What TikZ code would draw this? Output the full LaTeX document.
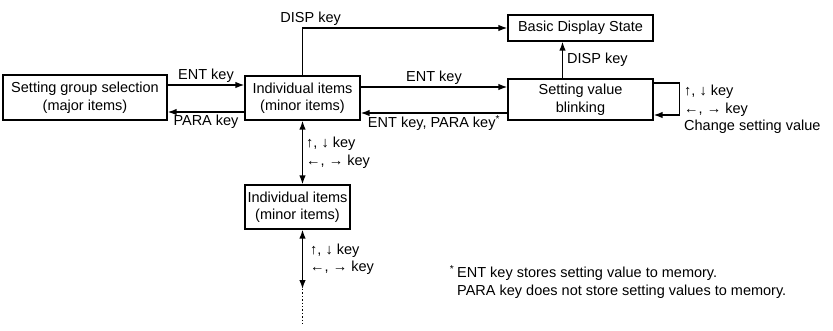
\documentclass[tikz,border=0pt]{standalone}
\usepackage{fontspec}
\setmainfont{Liberation Sans}
\usetikzlibrary{arrows.meta}

\begin{document}
\begin{tikzpicture}[x=1pt, y=-1pt,
        font=\fontsize{14.5}{17.5}\selectfont,
        statebox/.style={rectangle, draw=black, line width=1.3pt, align=center, inner sep=0pt},
        arr/.style={line width=1.4pt, -{Latex[length=9pt,width=6.5pt]}},
        darr/.style={line width=1.4pt, {Latex[length=9pt,width=6.5pt]}-{Latex[length=9pt,width=6.5pt]}},
        lbl/.style={inner sep=2pt}
    ]
        \useasboundingbox (0,0) rectangle (833,330);

        % States
        \node[statebox, minimum width=164pt, minimum height=45pt] (group) at (85,97.5) {Setting group selection\\(major items)};
        \node[statebox, minimum width=115pt, minimum height=44pt] (ind1) at (302.5,98) {Individual items\\(minor items)};
        \node[statebox, minimum width=145pt, minimum height=26pt] (basic) at (580.5,28) {Basic Display State};
        \node[statebox, minimum width=145pt, minimum height=41pt] (blink) at (580.5,99.5) {Setting value\\blinking};
        \node[statebox, minimum width=105pt, minimum height=44pt] (ind2) at (297.5,207) {Individual items\\(minor items)};

        % Group selection <-> individual items
        \draw[arr] ([yshift=12.5pt]group.east) -- ([yshift=12.5pt]group.east -| ind1.west) node[lbl, midway, above] (entA) {ENT key};
        \draw[arr] ([yshift=-14.5pt]group.east -| ind1.west) -- ([yshift=-14.5pt]group.east) node[lbl, midway, below] (paraA) {PARA key};

        % Individual items -> basic display
        \draw[arr] (ind1.north) |- (basic.west) node[lbl, pos=0.52, above] (dispA) {DISP key};

        % Individual items <-> setting value
        \draw[arr] ([yshift=11pt]ind1.east) -- ([yshift=11pt]ind1.east -| blink.west) node[lbl, midway, above] (entB) {ENT key};
        \draw[arr] ([yshift=-15pt]ind1.east -| blink.west) -- ([yshift=-15pt]ind1.east) node[lbl, midway, below] (paraB) {ENT key, PARA key\textsuperscript{*}};

        % Setting value -> basic display
        \draw[arr] ([xshift=-18pt]blink.north) -- ([xshift=-18pt]blink.north |- basic.south) node[lbl, midway, right, xshift=2pt] (dispB) {DISP key};

        % Self loop
        \draw[arr] ([yshift=16.5pt]blink.east) -- ++(26,0) |- ([yshift=-15.5pt]blink.east);
        \node[anchor=north west, align=left, inner sep=0pt] (loopkeys) at (684,85) {↑, ↓ key\\←, → key\\Change setting value};

        % Scrolling through items
        \draw[darr] (ind1.south) -- (ind1.south |- ind2.north) node[lbl, midway, right, xshift=1pt, align=left] (scrollA) {↑, ↓ key\\←, → key};
        \coordinate (more) at (302.5,289);
        \draw[darr] (ind1.south |- ind2.south) -- (more) node[lbl, midway, right, xshift=5pt, align=left] (scrollB) {↑, ↓ key\\←, → key};
        \draw[line width=1.4pt, dotted] (more) -- ++(0,37);

        % Footnote
        \node[anchor=west, align=left, inner sep=0pt] (note) at (457,282) {\llap{\textsuperscript{*}\hspace{3pt}}ENT key stores setting value to memory.\\PARA key does not store setting values to memory.};
    \end{tikzpicture}
\end{document}
